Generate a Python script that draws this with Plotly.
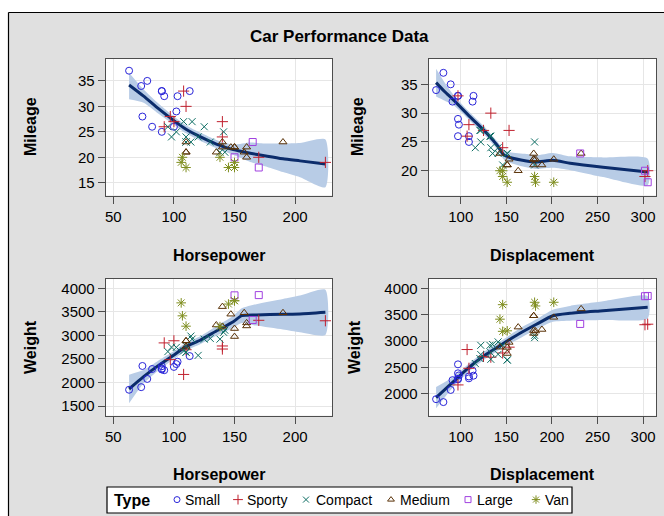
import plotly.graph_objects as go

W, H = 664, 516

# ---------------- data ----------------
types = ["Small", "Sporty", "Compact", "Medium", "Large", "Van"]

car_type = (["Small"] * 13 + ["Sporty"] * 9 + ["Compact"] * 15 +
            ["Medium"] * 13 + ["Large"] * 3 + ["Van"] * 7)
mileage = [33, 33, 37, 32, 32, 26, 33, 28, 25, 34, 29, 35, 26,
           20, 27, 19, 30, 33, 27, 24, 26, 28,
           27, 23, 26, 25, 24, 26, 24, 25, 21, 21, 23, 24, 23, 27, 23,
           20, 21, 22, 22, 22, 22, 23, 23, 21, 22, 21, 21, 23,
           23, 18, 20,
           18, 18, 18, 19, 20, 20, 19]
weight = [2560, 2345, 1845, 2260, 2440, 2285, 2275, 2350, 2295, 1900, 2390, 2075, 2330,
          3320, 2885, 3310, 2695, 2170, 2710, 2775, 2840, 2485,
          2670, 2640, 2655, 3065, 2750, 2920, 2780, 2745, 3110, 2920, 2645, 2575, 2935, 2920, 2985,
          3265, 2880, 2975, 3450, 3145, 3190, 3610, 2885, 3480, 3200, 2765, 3220, 3480,
          3325, 3855, 3850,
          3195, 3735, 3665, 3735, 3415, 3185, 3690]
displacement = [97, 114, 81, 91, 113, 97, 97, 98, 109, 73, 97, 89, 109,
                305, 153, 302, 133, 97, 125, 146, 107, 109,
                121, 151, 133, 181, 141, 132, 133, 122, 181, 146, 151, 116, 135, 122, 141,
                163, 151, 153, 202, 180, 182, 232, 143, 180, 180, 151, 189, 180,
                231, 305, 302,
                151, 202, 182, 181, 143, 146, 146]
horsepower = [113, 90, 63, 92, 103, 82, 90, 74, 90, 73, 102, 78, 100,
              170, 100, 225, 110, 108, 140, 140, 92, 97,
              108, 110, 95, 141, 98, 125, 110, 102, 142, 138, 110, 120, 130, 115, 114,
              160, 110, 150, 147, 150, 140, 140, 110, 158, 160, 110, 135, 190,
              165, 170, 150,
              110, 150, 145, 150, 107, 138, 106]

# loess fits with 95% confidence limits
hp_fit_x = [63, 75, 87, 100, 110, 122, 135, 149, 163, 177, 190, 204, 225]
hp_mpg_fit = [34.2, 32.0, 29.6, 27.2, 25.5, 24.0, 22.6, 21.5, 20.8, 20.2, 19.7, 19.3, 18.7]
hp_mpg_lo = [31.4, 30.7, 28.6, 26.4, 24.7, 23.2, 21.8, 20.5, 19.1, 18.1, 17.1, 16.1, 14.1]
hp_mpg_hi = [36.6, 33.3, 30.6, 28.0, 26.3, 24.8, 23.4, 22.5, 22.9, 22.7, 22.7, 22.8, 23.5]

disp_fit_x = [73, 82, 92, 110, 125, 141, 147, 154, 172, 183, 201, 220, 256, 305]
disp_mpg_fit = [35.3, 33.8, 32.3, 29.4, 27.1, 24.2, 22.8, 22.3, 21.7, 21.5, 21.8, 21.3, 20.6, 19.8]
disp_mpg_lo = [32.9, 32.2, 31.4, 28.7, 26.4, 23.5, 22.0, 21.4, 20.6, 20.3, 20.5, 20.1, 18.9, 17.5]
disp_mpg_hi = [37.7, 35.4, 33.2, 30.1, 27.8, 24.9, 23.6, 23.2, 22.9, 22.7, 23.1, 22.5, 22.3, 22.1]

hp_wt_x = [63, 75, 87, 100, 110, 122, 135, 149, 156, 168, 190, 204, 225]
hp_wt_fit = [1861, 2123, 2357, 2584, 2760, 2902, 3093, 3291, 3419, 3434, 3448, 3455, 3490]
hp_wt_lo = [1557, 1982, 2251, 2499, 2675, 2817, 2993, 3164, 3264, 3207, 3123, 3065, 3010]
hp_wt_hi = [2165, 2264, 2463, 2669, 2845, 2987, 3193, 3418, 3574, 3661, 3773, 3845, 3970]

disp_wt_x = [73, 92, 110, 128, 147, 165, 183, 201, 220, 256, 305]
disp_wt_fit = [1928, 2231, 2515, 2750, 2958, 3148, 3318, 3481, 3527, 3576, 3640]
disp_wt_lo = [1726, 2136, 2439, 2674, 2882, 3053, 3223, 3367, 3387, 3399, 3430]
disp_wt_hi = [2130, 2326, 2591, 2826, 3034, 3243, 3413, 3595, 3667, 3753, 3850]

# ---------------- styles ----------------
FONT = "Liberation Sans, Arial, sans-serif"
colors = {"Small": "#2A25D9", "Sporty": "#C0202E", "Compact": "#0E6E64",
          "Medium": "#5A3208", "Large": "#A040E0", "Van": "#7F8E1F"}
symbols = {"Small": "circle-open", "Sporty": "cross-thin-open", "Compact": "x-thin-open",
           "Medium": "triangle-up-open", "Large": "square-open", "Van": "asterisk-open"}
sizes = {"Small": 7, "Sporty": 8, "Compact": 7, "Medium": 7, "Large": 7, "Van": 8}
FIT_COLOR = "#0B2C6B"
BAND_COLOR = "#B8CCE6"


def px_x(p):
    return p / W


def px_y(p):
    return 1 - p / H


fig = go.Figure()

panels = [
    ("x", "y", horsepower, mileage, hp_fit_x, hp_mpg_fit, hp_mpg_lo, hp_mpg_hi),
    ("x2", "y2", displacement, mileage, disp_fit_x, disp_mpg_fit, disp_mpg_lo, disp_mpg_hi),
    ("x3", "y3", horsepower, weight, hp_wt_x, hp_wt_fit, hp_wt_lo, hp_wt_hi),
    ("x4", "y4", displacement, weight, disp_wt_x, disp_wt_fit, disp_wt_lo, disp_wt_hi),
]

legend_names = ["legend", "legend2", "legend3", "legend4", "legend5", "legend6"]

for pi, (xa, ya, xv, yv, fx, ff, flo, fhi) in enumerate(panels):
    # confidence band
    fig.add_trace(go.Scatter(
        x=list(fx) + list(fx)[::-1], y=list(fhi) + list(flo)[::-1],
        fill="toself", fillcolor=BAND_COLOR, line=dict(width=0, shape="spline", smoothing=0.6),
        mode="lines", hoverinfo="skip", showlegend=False, name="95% Confidence Limits",
        xaxis=xa, yaxis=ya))
    # loess fit
    fig.add_trace(go.Scatter(
        x=fx, y=ff, mode="lines", line=dict(color=FIT_COLOR, width=3, shape="spline", smoothing=0.6),
        showlegend=False, name="Loess", xaxis=xa, yaxis=ya))
    # scatter points per type
    for ti, t in enumerate(types):
        xs = [xv[i] for i in range(len(car_type)) if car_type[i] == t]
        ys = [yv[i] for i in range(len(car_type)) if car_type[i] == t]
        fig.add_trace(go.Scatter(
            x=xs, y=ys, mode="markers", name=t, legendgroup=t,
            marker=dict(symbol=symbols[t], size=sizes[t], color=colors[t],
                        line=dict(width=1, color=colors[t])),
            showlegend=False, xaxis=xa, yaxis=ya))

# legend swatches (one small legend per type; labels are drawn as annotations)
for ti, t in enumerate(types):
    fig.add_trace(go.Scatter(
        x=[None], y=[None], mode="markers", name="", legendgroup=t,
        marker=dict(symbol=symbols[t], size=sizes[t] - 1, color=colors[t],
                    line=dict(width=1, color=colors[t])),
        showlegend=True, legend=legend_names[ti], xaxis="x", yaxis="y"))

# ---------------- axes ----------------
axis_common = dict(showline=True, mirror=True, linecolor="#4D4D4D", linewidth=1,
                   ticks="outside", ticklen=7, tickwidth=1, tickcolor="#4D4D4D",
                   showgrid=True, gridcolor="#E6E6E6", gridwidth=1, zeroline=False,
                   tickfont=dict(family=FONT, size=15, color="black"))

left_dom = [px_x(105.7), px_x(332.3)]
right_dom = [px_x(428.7), px_x(656.0)]
top_dom = [px_y(195.5), px_y(59.0)]
bot_dom = [px_y(415.7), px_y(279.0)]

fig.update_layout(
    xaxis=dict(domain=left_dom, range=[43.7, 230.7], tickvals=[50, 100, 150, 200], anchor="y", **axis_common),
    yaxis=dict(domain=top_dom, range=[12.5, 39.3], tickvals=[15, 20, 25, 30, 35], anchor="x", **axis_common),
    xaxis2=dict(domain=right_dom, range=[64.9, 314.1], tickvals=[100, 150, 200, 250, 300], anchor="y2", **axis_common),
    yaxis2=dict(domain=top_dom, range=[15.7, 39.4], tickvals=[20, 25, 30, 35], anchor="x2", **axis_common),
    xaxis3=dict(domain=left_dom, range=[43.7, 230.7], tickvals=[50, 100, 150, 200], anchor="y3", **axis_common),
    yaxis3=dict(domain=bot_dom, range=[1294, 4197], tickvals=[1500, 2000, 2500, 3000, 3500, 4000], anchor="x3", **axis_common),
    xaxis4=dict(domain=right_dom, range=[64.9, 314.1], tickvals=[100, 150, 200, 250, 300], anchor="y4", **axis_common),
    yaxis4=dict(domain=bot_dom, range=[1587, 4176], tickvals=[2000, 2500, 3000, 3500, 4000], anchor="x4", **axis_common),
)

# ---------------- background frame ----------------
shapes = [
    dict(type="rect", xref="paper", yref="paper", x0=-0.1, x1=1.1, y0=px_y(12), y1=1.1,
         fillcolor="white", line=dict(width=0), layer="below"),
    dict(type="rect", xref="paper", yref="paper", x0=-0.1, x1=px_x(8), y0=-0.1, y1=1.1,
         fillcolor="white", line=dict(width=0), layer="below"),
    dict(type="line", xref="paper", yref="paper", x0=px_x(8.5), x1=1.1, y0=px_y(12.5), y1=px_y(12.5),
         line=dict(color="black", width=1.2)),
    dict(type="line", xref="paper", yref="paper", x0=px_x(8.5), x1=px_x(8.5), y0=-0.1, y1=px_y(12.5),
         line=dict(color="black", width=1.2)),
    # legend box
    dict(type="rect", xref="paper", yref="paper", x0=px_x(107), x1=px_x(572), y0=px_y(513), y1=px_y(487),
         fillcolor="white", line=dict(color="black", width=1.2), layer="above"),
]

ann = []


def add_text(text, x, y, size=16, angle=0, bold=True, xanchor="center"):
    ann.append(dict(text=("<b>%s</b>" % text) if bold else text, x=px_x(x), y=px_y(y),
                    xref="paper", yref="paper", showarrow=False, textangle=angle,
                    xanchor=xanchor, yanchor="middle",
                    font=dict(family=FONT, size=size, color="black")))


add_text("Car Performance Data", 339, 36, size=17)
add_text("Mileage", 30, 127, angle=-90)
add_text("Mileage", 357, 127, angle=-90)
add_text("Weight", 30, 347, angle=-90)
add_text("Weight", 354, 347, angle=-90)
add_text("Horsepower", 219, 255)
add_text("Displacement", 542, 255)
add_text("Horsepower", 219, 474)
add_text("Displacement", 542, 474)
add_text("Type", 112, 500, size=16, xanchor="left")

# legend: swatch centres and label starts along the legend box
swatch_x = [175, 236, 304, 389, 466, 534]
label_x = [183, 245, 314, 398, 475, 543]
legend_layout = {}
for ti, ln in enumerate(legend_names):
    legend_layout[ln] = dict(
        x=px_x(swatch_x[ti] - 18), y=px_y(500), xanchor="left", yanchor="middle",
        bgcolor="rgba(0,0,0,0)", borderwidth=0, itemwidth=30,
        font=dict(family=FONT, size=14, color="black"))
    add_text(types[ti], label_x[ti], 500, size=14, bold=False, xanchor="left")

fig.update_layout(
    width=W, height=H, autosize=False,
    margin=dict(l=0, r=0, t=0, b=0),
    paper_bgcolor="#E0E0E0", plot_bgcolor="white",
    shapes=shapes, annotations=ann,
    showlegend=True,
    **legend_layout,
)

fig.write_html("out.html", config={"displayModeBar": False})
